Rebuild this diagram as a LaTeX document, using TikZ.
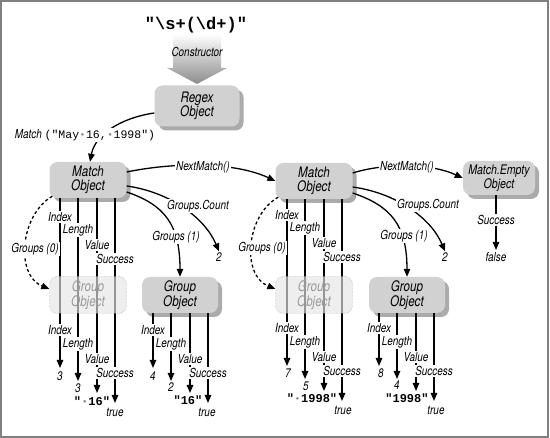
\documentclass[tikz,border=0pt]{standalone}
\usepackage{fontspec}
\setmainfont{TeX Gyre Heros}[FakeStretch=0.8]
\setmonofont{Liberation Mono}
\usetikzlibrary{arrows.meta,shadows}

\newcommand\lblfont{\fontsize{12.4}{13}\selectfont\itshape}
\newcommand\objfont{\fontsize{14.5}{14.5}\selectfont\itshape}
\newcommand\spdot{\makebox[0.6em]{\textcolor{gray}{\raisebox{0.3ex}{\scalebox{0.55}{$\bullet$}}}}}

\tikzset{
  obj/.style={rounded corners=8pt, fill=black!18, align=center, font=\objfont,
    minimum width=77pt, minimum height=36pt, inner sep=2pt,
    drop shadow={shadow xshift=4pt, shadow yshift=-4pt, fill=black!55, opacity=.6}},
  ghost/.style={rounded corners=8pt, draw=black!45, densely dotted, fill=black!10,
    fill opacity=.65, text opacity=1, text=black!40, align=center, font=\objfont,
    minimum width=77pt, minimum height=37pt, inner sep=2pt},
  link/.style={line width=1.3pt, -{Triangle[length=8pt,width=6.5pt]}},
  maybe/.style={link, dash pattern=on 3pt off 2.5pt},
  lbl/.style={font=\lblfont, fill=white, inner sep=1pt},
  val/.style={font=\lblfont, inner sep=1pt},
  str/.style={font=\fontsize{12}{14}\selectfont\ttfamily\bfseries, inner sep=1pt},
}

\begin{document}
\begin{tikzpicture}[x=1pt,y=-1pt]
    \useasboundingbox (0,0) rectangle (550,438);
    \draw [black!50, line width=2pt] (1,1) rectangle (548,437);

    % constructor
    \node [font=\fontsize{17}{20}\selectfont\ttfamily\bfseries] (pattern) at (196,25)
        {"\textbackslash s+(\textbackslash d+)"};
    \shade [top color=white, bottom color=black!45]
        (173,34) -- (221,34) -- (221,68) -- (227,68) -- (197,84) -- (167,68) -- (173,68) -- cycle;
    \node [val] (ctor) at (197,52) {Constructor};
    \node [obj, minimum width=85pt, minimum height=41pt] (regex) at (197,106) {Regex\\Object};

    % match objects
    \node [obj] (match1) at (88,180) {Match\\Object};
    \node [obj] (match2) at (314,181) {Match\\Object};
    \node [obj, minimum width=72pt, minimum height=34pt,
           font=\fontsize{13.2}{13.5}\selectfont\itshape] (empty) at (499,178) {Match.Empty\\Object};
    \node [obj, minimum width=76pt] (group1) at (180,295) {Group\\Object};
    \node [obj, minimum width=76pt] (group2) at (407,295) {Group\\Object};

    % property lines
    \foreach \src/\x/\dy in {match1/60/0, group1/153/0, match2/287/-2, group2/379/-2}{
        \foreach \dx/\yt [count=\i] in {0/368, 18/381, 37/393, 55/403}{
            \coordinate (\src-\i) at (\x+\dx,\yt+\dy);
            \draw [link] (\src.south -| \src-\i) -- (\src-\i);
        }
    }
    \node [ghost] (ghost1) at (88,295) {Group\\Object};
    \node [ghost] (ghost2) at (314,295) {Group\\Object};

    \foreach \x/\dy in {60/0, 287/-2}{
        \foreach \dx/\y/\t in {0/217/Index, 18/230/Length, 37/245/Value, 55/259/Success}{
            \node [lbl] (up\x\t) at (\x+\dx,\y+\dy) {\t};
        }
    }
    \foreach \x/\dy in {60/0, 153/0, 287/-2, 379/-2}{
        \foreach \dx/\y/\t in {0/330/Index, 18/344/Length, 37/359/Value, 55/373/Success}{
            \node [lbl] (lo\x\t) at (\x+\dx,\y+\dy) {\t};
        }
    }

    % values
    \node [val] (idx1) at (60,376) {3};
    \node [val] (len1) at (78,388) {3};
    \node [str] (str1) at (92,401) {"\spdot16"};
    \node [val] (ok1) at (115,412) {true};
    \node [val] (idx2) at (153,376) {4};
    \node [val] (len2) at (171,387) {2};
    \node [str] (str2) at (188,400) {"16"};
    \node [val] (ok2) at (207,412) {true};
    \node [val] (idx3) at (288,373) {7};
    \node [val] (len3) at (306,386) {5};
    \node [str] (str3) at (312,398) {"\spdot1998"};
    \node [val] (ok3) at (343,410) {true};
    \node [val] (idx4) at (381,373) {8};
    \node [val] (len4) at (397,385) {4};
    \node [str] (str4) at (407,398) {"1998"};
    \node [val] (ok4) at (436,410) {true};
    \node [val] (count1) at (219,257) {2};
    \node [val] (count2) at (445,257) {2};
    \node [val] (none) at (496,257) {false};

    % calls
    \draw [link] ([yshift=-7pt]regex.west) .. controls (120,118) and (95,135) .. ([xshift=2pt]match1.north);
    \node [lbl] (call) at (85,135) {Match {\upshape\ttfamily\fontsize{11.5}{13}\selectfont("May\spdot16,\spdot1998")}};

    \draw [link] ([yshift=8pt]match1.east) .. controls (175,162) and (235,162) .. (match2.west);
    \node [lbl] (next1) at (203,167) {NextMatch()};
    \draw [link] ([yshift=8pt]match2.east) .. controls (385,163) and (430,163) .. (empty.west);
    \node [lbl] (next2) at (407,167) {NextMatch()};

    \draw [link] ([yshift=-6pt]match1.east) .. controls (170,192) and (205,218) .. (count1.north);
    \node [lbl] (cnt1) at (198,206) {Groups.Count};
    \draw [link] ([yshift=-6pt]match2.east) .. controls (396,193) and (431,218) .. (count2.north);
    \node [lbl] (cnt2) at (428,205) {Groups.Count};

    \draw [link] ([yshift=-12pt]match1.east) .. controls (165,205) and (180,225) .. (group1.north);
    \node [lbl] (grp1) at (176,237) {Groups (1)};
    \draw [link] ([yshift=-12pt]match2.east) .. controls (391,206) and (407,225) .. (group2.north);
    \node [lbl] (grp2) at (404,236) {Groups (1)};

    \draw [maybe] ([xshift=3pt,yshift=2pt]match1.south west) .. controls (20,215) and (15,275) .. ([yshift=6pt]ghost1.west);
    \node [lbl] (zero1) at (35,249) {Groups (0)};
    \draw [maybe] ([xshift=3pt,yshift=2pt]match2.south west) .. controls (246,215) and (241,275) .. ([yshift=6pt]ghost2.west);
    \node [lbl] (zero2) at (262,248) {Groups (0)};

    \coordinate (empty-1) at (496,250);
    \draw [link] (empty.south -| empty-1) -- (empty-1);
    \node [lbl] (emptyok) at (496,220) {Success};
\end{tikzpicture}
\end{document}
